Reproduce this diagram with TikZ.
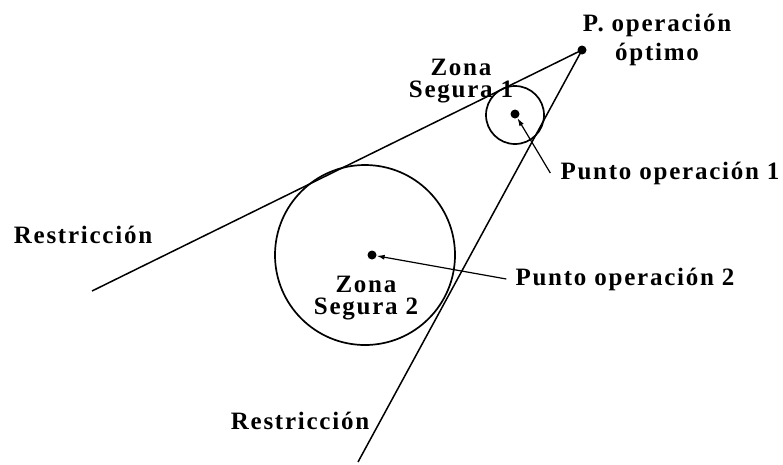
\documentclass[tikz,border=0pt]{standalone}
\usepackage{fontspec}
\setmainfont{Liberation Serif}[LetterSpace=7]
\usetikzlibrary{arrows.meta}

\begin{document}
\begin{tikzpicture}[x=1pt,y=-1pt,>={Latex[length=8pt,width=5pt]}]
  \tikzstyle{lbl}=[font=\bfseries\fontsize{25}{22}\selectfont,align=center,inner sep=0pt]
  \tikzstyle{zone}=[draw,circle,line width=1.7pt,inner sep=0pt]
  \tikzstyle{pt}=[fill,circle,inner sep=0pt,minimum size=9pt]
  \useasboundingbox (0,0) rectangle (783,464);
  % restrictions
  \node[pt] (opt) at (582,50) {};
  \coordinate (endA) at (92,291);
  \coordinate (endB) at (358,462);
  \draw[line width=1.5pt] (opt.center) -- (endA);
  \draw[line width=1.5pt] (opt.center) -- (endB);
  % safe zones
  \node[zone,minimum size=58pt] (zs1) at (515,115) {};
  \node[zone,minimum size=180pt] (zs2) at (365,255) {};
  \node[pt] (dot1) at (515,114) {};
  \node[pt] (dot2) at (372,255) {};
  % labels
  \node[lbl,font=\bfseries\fontsize{25}{29}\selectfont] (popt) at (657,40) {P. operación\\óptimo};
  \node[lbl] (z1lbl) at (461,81) {Zona\\Segura 1};
  \node[lbl] (z2lbl) at (366,298) {Zona\\Segura 2};
  \node[lbl] (p1lbl) at (670,173) {Punto operación 1};
  \node[lbl] (p2lbl) at (625,279) {Punto operación 2};
  \node[lbl] (rA) at (83,235) {Restricción};
  \node[lbl] (rB) at (300,421) {Restricción};
  \draw[->,line width=1.2pt] ([xshift=-10pt]p1lbl.west) -- (dot1);
  \draw[->,line width=1.2pt] ([xshift=-9pt]p2lbl.west) -- (dot2);
\end{tikzpicture}
\end{document}
